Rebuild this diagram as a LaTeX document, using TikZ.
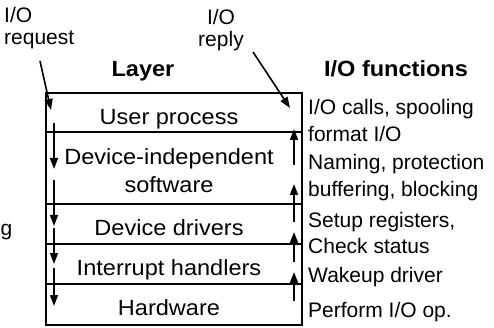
\documentclass[tikz,border=0pt]{standalone}
\usepackage{fontspec}
\setmainfont{Liberation Sans}
\newfontfamily\labfont[FakeStretch=1.07]{Liberation Sans}
\usetikzlibrary{arrows.meta}
\tikzset{
  x=1pt, y=-1pt,
  frame/.style={line width=1.9pt},
  flow/.style={line width=1.6pt, -{Triangle[length=11pt,width=8pt]}},
  lab/.style={inner sep=0pt, anchor=base, font=\labfont\fontsize{22}{26}\selectfont},
  head/.style={inner sep=0pt, anchor=base, font=\labfont\bfseries\fontsize{22}{26}\selectfont},
  note/.style={inner sep=0pt, anchor=base west, font=\fontsize{21}{26}\selectfont},
  side/.style={inner sep=0pt, anchor=base west, font=\fontsize{21}{26}\selectfont},
}
\begin{document}
\begin{tikzpicture}
\useasboundingbox (0,0) rectangle (494,328);
% frame
\coordinate (tl) at (46,93);
\coordinate (br) at (302,325);
\draw[frame] (tl) rectangle (br);
\coordinate (l1) at (46,132); \coordinate (r1) at (302,132);
\coordinate (l2) at (46,204); \coordinate (r2) at (302,204);
\coordinate (l3) at (46,244); \coordinate (r3) at (302,244);
\coordinate (l4) at (46,284); \coordinate (r4) at (302,284);
\draw[frame] (l1) -- (r1);
\draw[frame] (l2) -- (r2);
\draw[frame] (l3) -- (r3);
\draw[frame] (l4) -- (r4);
% headers
\node[head] (layer) at (143,77) {Layer};
\node[head] (iof) at (396,77) {I/O functions};
% request / reply labels
\node[note] (req1) at (4,23) {I/O};
\node[note] (req2) at (4,45) {request};
\node[inner sep=0pt, anchor=base, font=\fontsize{21}{26}\selectfont] (rep1) at (221,25) {I/O};
\node[inner sep=0pt, anchor=base, font=\fontsize{21}{26}\selectfont] (rep2) at (221,47) {reply};
\node[note] (gfrag) at (0.5,235) {g};
% layer labels
\node[lab] (up) at (169,125) {User process};
\node[lab] (di1) at (169,165) {Device-independent};
\node[lab] (di2) at (169,193) {software};
\node[lab] (dd) at (169,236) {Device drivers};
\node[lab] (ih) at (169,275) {Interrupt handlers};
\node[lab] (hw) at (169,315) {Hardware};
% functions
\node[side] (f1) at (308,115) {I/O calls, spooling};
\node[side] (f2) at (308,142) {format I/O};
\node[side] (f3) at (308,170) {Naming, protection};
\node[side] (f4) at (308,197) {buffering, blocking};
\node[side] (f5) at (308,227) {Setup registers,};
\node[side] (f6) at (308,253) {Check status};
\node[side] (f7) at (308,282) {Wakeup driver};
\node[side] (f8) at (308,317) {Perform I/O op.};
% request and reply arrows
\coordinate (rqs) at (40,61);
\coordinate (rqe) at (51,110);
\draw[flow] (rqs) -- (rqe);
\coordinate (rps) at (253,52);
\coordinate (rpe) at (290,108);
\draw[flow] (rps) -- (rpe);
% down arrows
\coordinate (d1s) at (54,123); \coordinate (d1e) at (54,169);
\coordinate (d2s) at (54,180); \coordinate (d2e) at (54,226);
\coordinate (d3s) at (54,228); \coordinate (d3e) at (54,264);
\coordinate (d4s) at (54,268); \coordinate (d4e) at (54,306);
\draw[flow] (d1s) -- (d1e);
\draw[flow] (d2s) -- (d2e);
\draw[flow] (d3s) -- (d3e);
\draw[flow] (d4s) -- (d4e);
% up arrows
\coordinate (u1s) at (294,165); \coordinate (u1e) at (294,129);
\coordinate (u2s) at (294,222); \coordinate (u2e) at (294,184);
\coordinate (u3s) at (294,262); \coordinate (u3e) at (294,232);
\coordinate (u4s) at (294,301); \coordinate (u4e) at (294,272);
\draw[flow] (u1s) -- (u1e);
\draw[flow] (u2s) -- (u2e);
\draw[flow] (u3s) -- (u3e);
\draw[flow] (u4s) -- (u4e);
\end{tikzpicture}
\end{document}
